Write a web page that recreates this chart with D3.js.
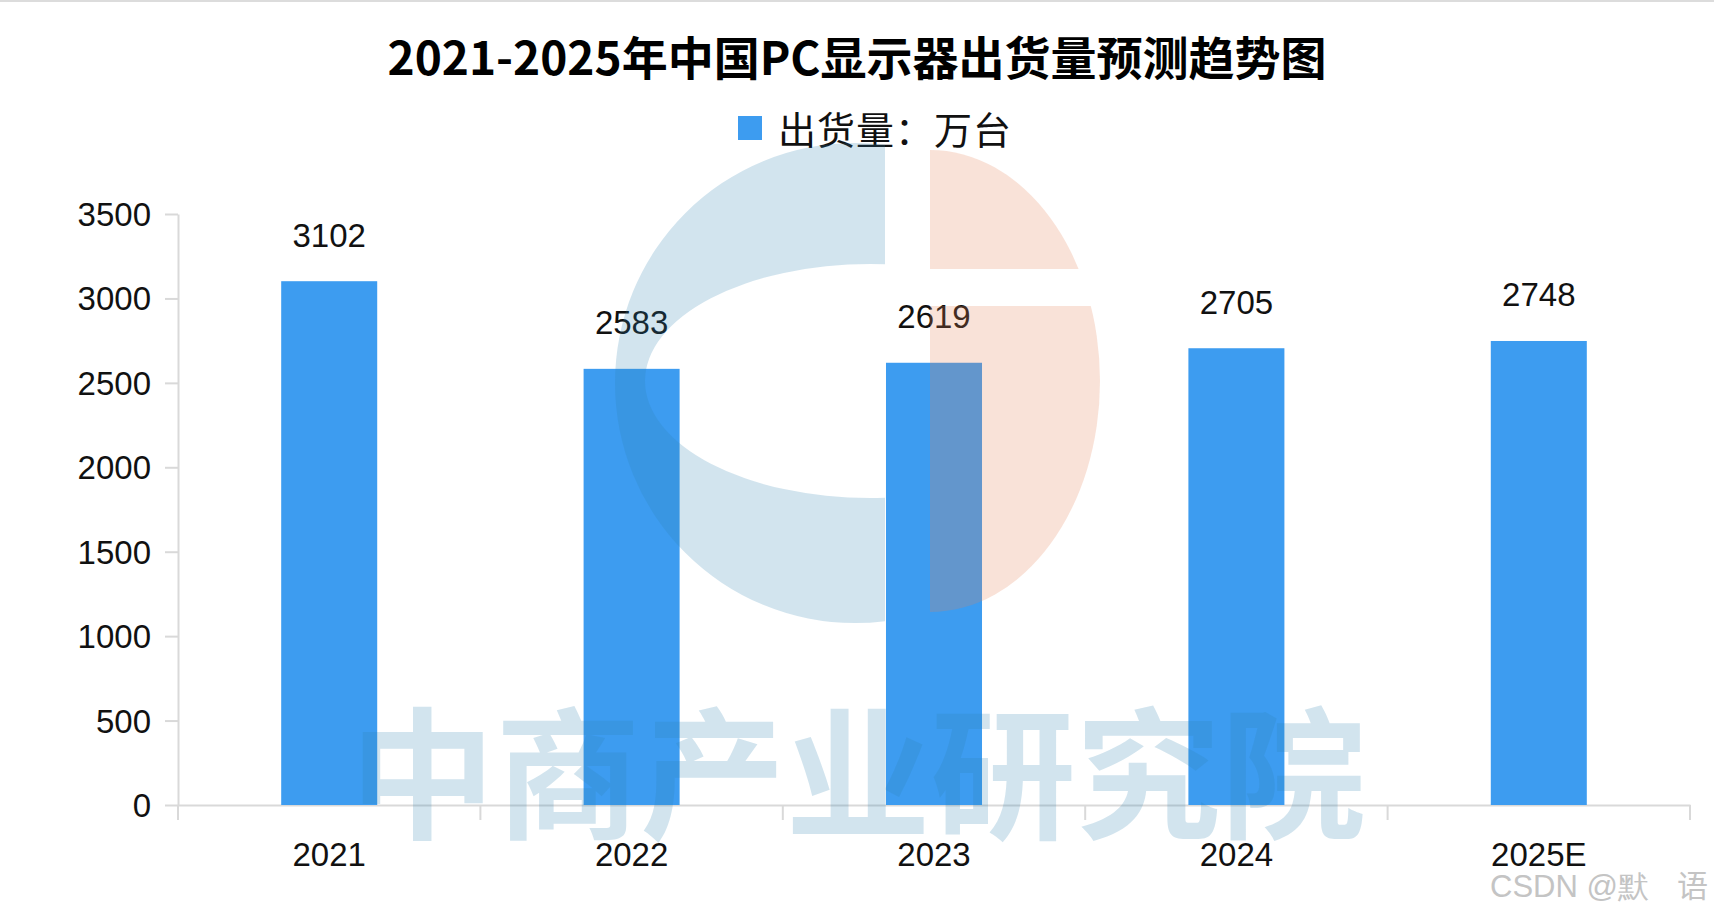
<!DOCTYPE html>
<html>
<head>
<meta charset="utf-8">
<script src="https://cdn.jsdelivr.net/npm/d3@7/dist/d3.min.js"></script>
<style>
  html, body { margin: 0; padding: 0; background: #fff; }
  svg { display: block; }
</style>
</head>
<body>
<svg id="chart" width="1714" height="913"></svg>
<script>
// ---- data ----
const titleText = "2021-2025年中国PC显示器出货量预测趋势图";
const seriesName = "出货量：万台";
const categories = ["2021", "2022", "2023", "2024", "2025E"];
const values = [3102, 2583, 2619, 2705, 2748];
const yTicks = [0, 500, 1000, 1500, 2000, 2500, 3000, 3500];
const watermarkText = "中商产业研究院";
const creditText = "CSDN @默";
const creditText2 = "语";

// ---- layout ----
const W = 1714, H = 913;
const plot = { left: 178, right: 1690, top: 214, bottom: 805 };
const barColor = "#3d9cf0";
const axisColor = "#d9d9d9";
const numFont = "'Liberation Sans', Arial, sans-serif";
const cjkFont = "'Noto Sans CJK SC', 'Noto Sans', sans-serif";

const svg = d3.select("#chart");

// top border line
svg.append("line").attr("x1", 0).attr("x2", W).attr("y1", 1).attr("y2", 1)
  .attr("stroke", "#dcdcdc").attr("stroke-width", 2);

const x = d3.scaleBand().domain(categories)
  .range([plot.left, plot.right])
  .paddingInner(0.6825).paddingOuter(0.34125);
const y = d3.scaleLinear().domain([0, 3500]).range([plot.bottom, plot.top]);

// ---- watermark logo (drawn behind texts, over bars via opacity) ----
const defs = svg.append("defs");
defs.append("clipPath").attr("id", "clipBlue")
  .append("rect").attr("x", 0).attr("y", 0).attr("width", 885).attr("height", H);
const cpO = defs.append("clipPath").attr("id", "clipOrange");
cpO.append("rect").attr("x", 930).attr("y", 0).attr("width", 400).attr("height", 269);
cpO.append("rect").attr("x", 930).attr("y", 306).attr("width", 400).attr("height", 400);

function ellipsePath(cx, cy, rx, ry) {
  return `M${cx - rx},${cy} a${rx},${ry} 0 1,0 ${2 * rx},0 a${rx},${ry} 0 1,0 ${-2 * rx},0 Z`;
}

// title
svg.append("text")
  .attr("x", 857).attr("y", 55)
  .attr("text-anchor", "middle").attr("dominant-baseline", "central")
  .attr("font-family", cjkFont).attr("font-weight", "bold")
  .attr("font-size", 46).attr("fill", "#000")
  .text(titleText);

// legend
const legend = svg.append("g");
legend.append("rect").attr("x", 738).attr("y", 116).attr("width", 24).attr("height", 24)
  .attr("fill", barColor);
legend.append("text")
  .attr("x", 778).attr("y", 127)
  .attr("dominant-baseline", "central")
  .attr("font-family", cjkFont).attr("font-size", 38).attr("fill", "#111")
  .attr("textLength", 233).attr("lengthAdjust", "spacing")
  .text(seriesName);

// y axis
const yAxis = d3.axisLeft(y).tickValues(yTicks).tickFormat(d3.format("d"))
  .tickSize(13).tickSizeOuter(0).tickPadding(14);
const yg = svg.append("g").attr("transform", `translate(${plot.left},0)`).call(yAxis);
yg.select(".domain").attr("stroke", axisColor).attr("stroke-width", 2);
yg.selectAll(".tick line").attr("stroke", axisColor).attr("stroke-width", 2);
yg.selectAll(".tick text").attr("font-family", numFont).attr("font-size", 33)
  .attr("fill", "#111").attr("dy", "0.35em");

// x axis (labels at band centres, ticks at band boundaries)
const xAxis = d3.axisBottom(x).tickSize(0).tickSizeOuter(0).tickPadding(38);
const xg = svg.append("g").attr("transform", `translate(0,${plot.bottom})`).call(xAxis);
xg.select(".domain").attr("stroke", axisColor).attr("stroke-width", 2);
xg.selectAll(".tick text").attr("font-family", numFont).attr("font-size", 33).attr("fill", "#111");
const half = (x.step() - x.bandwidth()) / 2;
const bounds = categories.map(c => x(c) - half).concat([x(categories[categories.length - 1]) + x.bandwidth() + half]);
xg.selectAll(".bound").data(bounds).enter().append("line")
  .attr("class", "bound")
  .attr("x1", d => d).attr("x2", d => d).attr("y1", 0).attr("y2", 15)
  .attr("stroke", axisColor).attr("stroke-width", 2);

// bars
svg.append("g").selectAll("rect").data(values).enter().append("rect")
  .attr("x", (d, i) => x(categories[i]))
  .attr("y", d => y(d))
  .attr("width", x.bandwidth())
  .attr("height", d => y(0) - y(d))
  .attr("fill", barColor);

// value labels
svg.append("g").selectAll("text").data(values).enter().append("text")
  .attr("x", (d, i) => x(categories[i]) + x.bandwidth() / 2)
  .attr("y", d => y(d) - 46)
  .attr("text-anchor", "middle").attr("dominant-baseline", "central")
  .attr("font-family", numFont).attr("font-size", 33).attr("fill", "#111")
  .text(d => d);

// logo watermark
svg.append("path")
  .attr("d", ellipsePath(855, 383, 240, 240) + ellipsePath(870, 381, 225, 117))
  .attr("fill-rule", "evenodd")
  .attr("fill", "rgb(47,130,176)").attr("fill-opacity", 0.216)
  .attr("clip-path", "url(#clipBlue)");
svg.append("path")
  .attr("d", ellipsePath(930, 381, 170, 231))
  .attr("fill", "rgb(229,130,87)").attr("fill-opacity", 0.232)
  .attr("clip-path", "url(#clipOrange)");

// watermark text
svg.append("text")
  .attr("x", 350).attr("y", 766)
  .attr("dominant-baseline", "central")
  .attr("textLength", 1016).attr("lengthAdjust", "spacingAndGlyphs")
  .attr("font-family", cjkFont).attr("font-weight", "bold")
  .attr("font-size", 142)
  .attr("fill", "rgb(47,130,176)").attr("fill-opacity", 0.216)
  .text(watermarkText);

// credit watermark
svg.append("text").attr("x", 1490).attr("y", 897)
  .attr("font-family", numFont).attr("font-size", 31).attr("fill", "#c4c4c4")
  .text(creditText);
svg.append("text").attr("x", 1677).attr("y", 897)
  .attr("font-family", cjkFont).attr("font-size", 31).attr("fill", "#c4c4c4")
  .text(creditText2);
</script>
</body>
</html>
